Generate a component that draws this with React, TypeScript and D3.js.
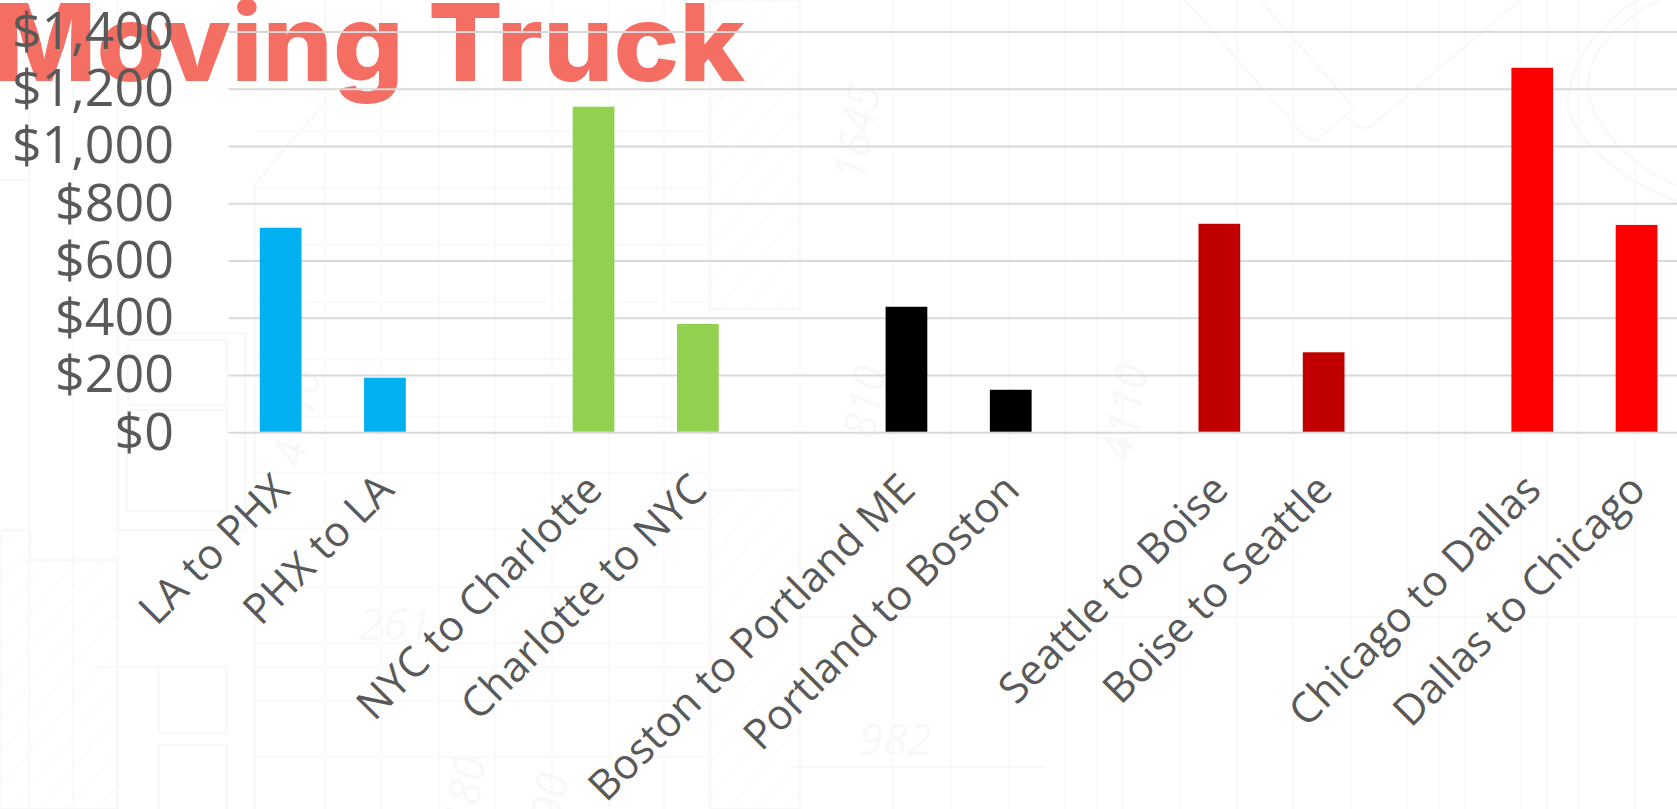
import React from "react";
import * as d3 from "d3";

// Route pairs; blank slots separate the pairs along the axis.
const categories = [
  "LA to PHX", "PHX to LA", "gap-1",
  "NYC to Charlotte", "Charlotte to NYC", "gap-2",
  "Boston to Portland ME", "Portland to Boston", "gap-3",
  "Seattle to Boise", "Boise to Seattle", "gap-4",
  "Chicago to Dallas", "Dallas to Chicago",
];
const routes = categories.filter((c) => !c.startsWith("gap-"));
const prices = [716, 192, 1139, 380, 440, 150, 730, 281, 1275, 726];
const barColors = [
  "#00B0F0", "#00B0F0", "#92D050", "#92D050", "#000000",
  "#000000", "#C00000", "#C00000", "#FF0000", "#FF0000",
];
const priceTicks = [0, 200, 400, 600, 800, 1000, 1200, 1400];

// Faint drafting sheet behind the chart.
const sheetVerticals = [
  29, 73, 118, 325, 381, 439, 495, 552, 609, 664, 710, 800, 893, 951, 1009,
  1065, 1097, 1122, 1180, 1237, 1293, 1351, 1407, 1439, 1465, 1521, 1547, 1578, 1635,
];
const sheetHorizontals = [131, 188, 245, 302, 359, 417, 473, 529, 587, 643, 667, 701, 757];
const sheetNotes: [string, number, number, number][] = [
  ["1645", 872, 135, -80],
  ["4110", 1140, 415, -80],
  ["4110", 312, 420, -80],
  ["810", 880, 405, -80],
  ["261", 395, 640, 0],
  ["982", 895, 755, 0],
  ["180", 480, 795, -80],
  ["90", 565, 800, -80],
];
const hatchedAreas = [
  "M0 530 L30 530 L30 560 L117 560 L117 809 L0 809 Z",
  "M710 309 L800 309 L800 0 L710 0 Z",
  "M710 490 L800 490 L800 809 L710 809 Z",
];
const sheetPaths = [
  "M1185 0 L1302 133 Q1310 141 1317 140 L1354 108 L1260 0",
  "M1345 117 L1361 128 L1370 127 L1520 0",
  "M1639 0 C1590 25 1560 85 1570 115 C1585 150 1630 185 1677 201",
  "M1677 186 C1630 165 1590 125 1588 85 C1588 50 1620 20 1660 0",
  "M254 185 L327 100",
  "M255 185 L255 809",
  "M0 180 L30 180 L30 0",
  "M118 530 L118 333 L245 333 L245 530 L118 530",
  "M127 410 L227 410 L227 511 L127 511 Z",
  "M128 340 L227 340 L227 405 L128 405 Z",
  "M95 667 L228 667",
  "M159 667 L227 667 L227 733 L159 733 Z",
  "M159 809 L159 745 L227 745 L227 809",
  "M800 617 L1677 617",
  "M790 767 L1045 767",
];

const WIDTH = 1677;
const HEIGHT = 809;
const plotLeft = 228.5;
const baseline = 432.7;
const top = 32;

const x = d3.scaleBand<string>()
  .domain(categories)
  .range([plotLeft, plotLeft + 14 * 104.3])
  .paddingInner(0.6)
  .paddingOuter(0.3);
const y = d3.scaleLinear().domain([0, 1400]).range([baseline, top]);
const money = d3.format("$,");

const bodyFont = "'Open Sans', sans-serif";

export default function App() {
  return (
    <svg
      width={WIDTH}
      height={HEIGHT}
      viewBox={`0 0 ${WIDTH} ${HEIGHT}`}
      style={{ position: "absolute", left: 0, top: 0, display: "block", background: "#ffffff" }}
    >
      <defs>
        <pattern id="hatch" width="22" height="22" patternUnits="userSpaceOnUse" patternTransform="rotate(40)">
          <line x1="0" y1="0" x2="0" y2="22" stroke="#f9f9f9" strokeWidth="2" />
        </pattern>
      </defs>

      <g fill="none" stroke="#f8f8f8" strokeWidth={1.5}>
        {sheetVerticals.map((v) => (
          <line key={v} x1={v} x2={v} y1={0} y2={HEIGHT} />
        ))}
        {sheetHorizontals.map((h) => (
          <line key={h} x1={255} x2={710} y1={h} y2={h} />
        ))}
        {hatchedAreas.map((d) => (
          <path key={d} d={d} fill="url(#hatch)" strokeWidth={2.5} />
        ))}
        {sheetPaths.map((d) => (
          <path key={d} d={d} strokeWidth={2} />
        ))}
      </g>
      <g fill="#f8f8f8" fontFamily={bodyFont} fontStyle="italic" fontSize={44}>
        {sheetNotes.map(([label, nx, ny, angle], i) => (
          <text key={i} textAnchor="middle" transform={`translate(${nx},${ny}) rotate(${angle})`}>
            {label}
          </text>
        ))}
      </g>

      <text
        x={-8}
        y={81}
        fill="#F56E64"
        fontFamily="Inter, 'Open Sans', sans-serif"
        fontWeight={800}
        fontSize={107}
        textLength={753}
        lengthAdjust="spacingAndGlyphs"
      >
        Moving Truck
      </text>

      <g stroke="#d9d9d9" strokeWidth={2}>
        {priceTicks.map((t) => (
          <line key={t} x1={plotLeft} x2={WIDTH} y1={y(t)} y2={y(t)} />
        ))}
      </g>

      {routes.map((route, i) => (
        <rect
          key={route}
          x={x(route)}
          y={y(prices[i])}
          width={x.bandwidth()}
          height={baseline - y(prices[i]) - 1}
          fill={barColors[i]}
        />
      ))}

      <g fill="#595959" fontFamily={bodyFont} fontSize={52} textAnchor="end">
        {priceTicks.map((t) => (
          <text key={t} x={174} y={y(t) + 17}>
            {money(t)}
          </text>
        ))}
      </g>

      <g fill="#595959" fontFamily={bodyFont} fontSize={42} textAnchor="end">
        {routes.map((route) => (
          <text
            key={route}
            transform={`translate(${x(route)! + x.bandwidth() / 2 + 11},${492}) rotate(-45)`}
          >
            {route}
          </text>
        ))}
      </g>
    </svg>
  );
}
